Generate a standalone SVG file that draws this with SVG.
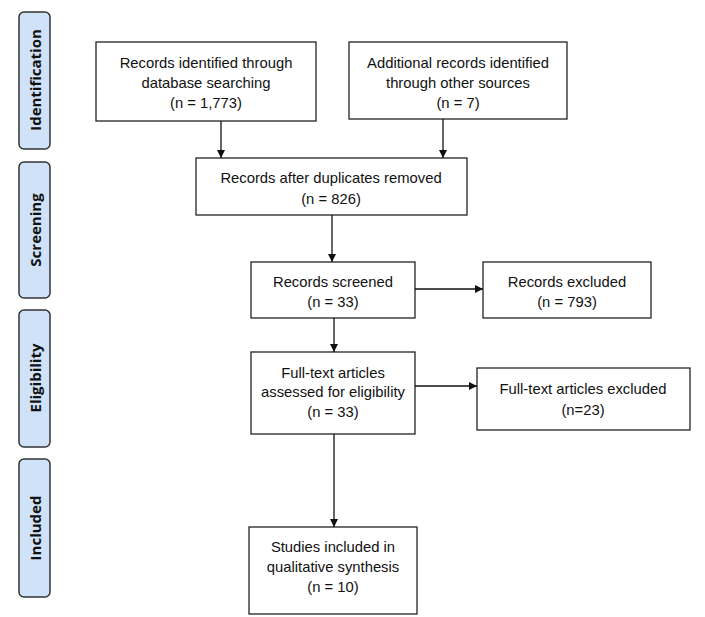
<svg xmlns="http://www.w3.org/2000/svg" width="705" height="617" viewBox="0 0 705 617">
<style>
.box{fill:#fff;stroke:#222;stroke-width:1.3}
.side{fill:#cfe2f8;stroke:#333;stroke-width:1.5}
.t{font-family:"Liberation Sans",Arial,sans-serif;font-size:14.8px;fill:#111;text-anchor:middle}
.s{font-family:"Open Sans","Liberation Sans",sans-serif;font-size:15px;font-weight:bold;fill:#111;text-anchor:middle}
.c{stroke:#111;stroke-width:1.3;fill:none;marker-end:url(#ah)}
</style>
<defs>
<marker id="ah" viewBox="0 0 10 10" refX="10" refY="5" markerWidth="8" markerHeight="8" markerUnits="userSpaceOnUse" orient="auto">
<path d="M0,0 L10,5 L0,10 z" fill="#111"/>
</marker>
</defs>
<rect width="705" height="617" fill="#fff"/>
<g id="stage-identification"><rect class="side" x="19" y="12" width="31" height="137" rx="5"/><text class="s" transform="translate(41,80) rotate(-90)">Identification</text></g>
<g id="stage-screening"><rect class="side" x="19" y="162" width="31" height="136" rx="5"/><text class="s" transform="translate(41,230) rotate(-90)">Screening</text></g>
<g id="stage-eligibility"><rect class="side" x="19" y="310" width="31" height="137" rx="5"/><text class="s" transform="translate(41,378) rotate(-90)">Eligibility</text></g>
<g id="stage-included"><rect class="side" x="19" y="459" width="31" height="138" rx="5"/><text class="s" transform="translate(41,528) rotate(-90)">Included</text></g>

<g id="n-db"><rect class="box" x="96" y="42" width="220" height="79"/>
<text class="t" x="206" y="68">Records identified through</text><text class="t" x="206" y="88">database searching</text><text class="t" x="206" y="108">(n = 1,773)</text></g>
<g id="n-other"><rect class="box" x="349" y="42" width="218" height="77"/>
<text class="t" x="458" y="68">Additional records identified</text><text class="t" x="458" y="88">through other sources</text><text class="t" x="458" y="108">(n = 7)</text></g>
<g id="n-dup"><rect class="box" x="196" y="158" width="271" height="57"/>
<text class="t" x="331" y="183">Records after duplicates removed</text><text class="t" x="331" y="204">(n = 826)</text></g>
<g id="n-screened"><rect class="box" x="251" y="262" width="164" height="56"/>
<text class="t" x="333" y="287">Records screened</text><text class="t" x="333" y="307">(n = 33)</text></g>
<g id="n-excluded"><rect class="box" x="483" y="262" width="168" height="56"/>
<text class="t" x="567" y="287">Records excluded</text><text class="t" x="567" y="307">(n = 793)</text></g>
<g id="n-fulltext"><rect class="box" x="251" y="352" width="164" height="82"/>
<text class="t" x="333" y="378">Full-text articles</text><text class="t" x="333" y="397">assessed for eligibility</text><text class="t" x="333" y="417">(n = 33)</text></g>
<g id="n-ftexcl"><rect class="box" x="477" y="368" width="213" height="62"/>
<text class="t" x="583" y="394">Full-text articles excluded</text><text class="t" x="583" y="415">(n=23)</text></g>
<g id="n-included"><rect class="box" x="249" y="527" width="168" height="87"/>
<text class="t" x="333" y="552">Studies included in</text><text class="t" x="333" y="572">qualitative synthesis</text><text class="t" x="333" y="592">(n = 10)</text></g>

<g id="connectors">
<line class="c" x1="221" y1="121" x2="221" y2="158"/>
<line class="c" x1="443" y1="119" x2="443" y2="158"/>
<line class="c" x1="332" y1="215" x2="332" y2="262"/>
<line class="c" x1="415" y1="289" x2="483" y2="289"/>
<line class="c" x1="334" y1="318" x2="334" y2="352"/>
<line class="c" x1="415" y1="386" x2="477" y2="386"/>
<line class="c" x1="334" y1="434" x2="334" y2="527"/>
</g>
</svg>
